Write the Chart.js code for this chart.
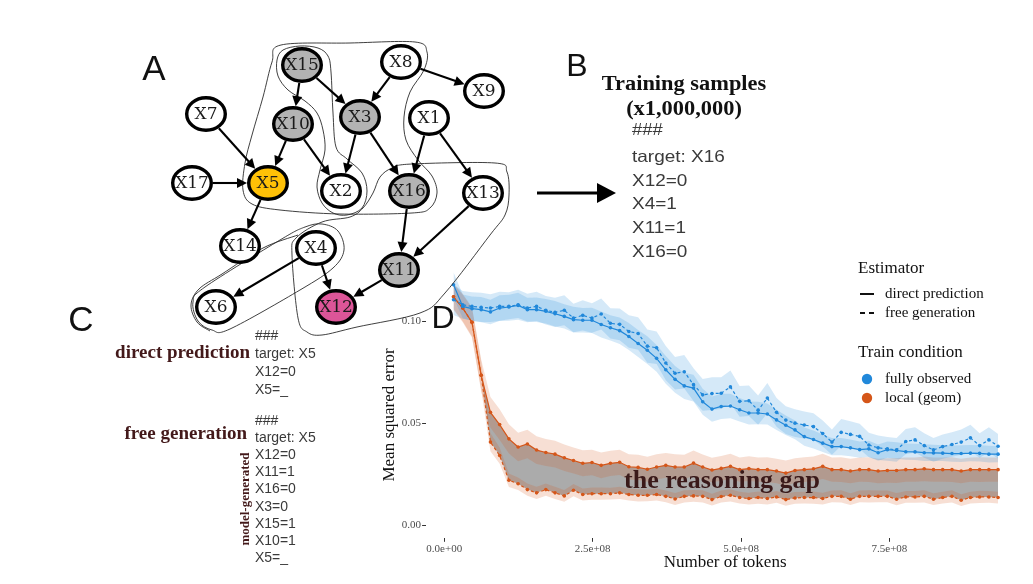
<!DOCTYPE html>
<html>
<head>
<meta charset="utf-8">
<title>the reasoning gap</title>
<script src="https://cdn.jsdelivr.net/npm/chart.js@4.4.1/dist/chart.umd.min.js"></script>
<style>
  html, body { margin: 0; padding: 0; background: #fff; }
  #page { position: relative; width: 1033px; height: 584px; overflow: hidden; }
  canvas { position: absolute; }
  #chartD { left: 380px; top: 250px; }
  #dag { left: 0; top: 0; pointer-events: none; }
  .t { position: absolute; white-space: nowrap; line-height: 1; }
  .letter { font-family: "Liberation Sans", Arial, sans-serif; color: #111; transform: translate(-50%, -50%); }
  .code { font-family: "Liberation Sans", Arial, sans-serif; color: #3a3a3a; }
  .head { font-family: "Liberation Serif", serif; font-weight: bold; }
  .maroon { color: #43191a; }
</style>
</head>
<body>
<div id="page">
  <canvas id="chartD" width="653" height="334"></canvas>
  <canvas id="dag" width="1033" height="584"></canvas>

  <div class="t letter" style="left:154px; top:67px; font-size:35px;">A</div>
  <div class="t letter" style="left:577px; top:65px; font-size:32px;">B</div>
  <div class="t letter" style="left:81px; top:318px; font-size:35px;">C</div>
  <div class="t letter" style="left:443px; top:317px; font-size:32px;">D</div>

  <!-- panel B -->
  <div class="t head" style="left:684px; top:83px; font-size:20px; color:#111; transform:translate(-50%,-50%) scaleX(1.12);">Training samples</div>
  <div class="t head" style="left:684px; top:108px; font-size:20px; color:#111; transform:translate(-50%,-50%) scaleX(1.12);">(x1,000,000)</div>
  <div class="t code" style="left:632px; top:130px; font-size:16px; transform-origin:left center; transform:translateY(-50%) scaleX(1.15);">###</div>
  <div class="t code" style="left:632px; top:145px; font-size:16.5px; line-height:23.7px; transform-origin:left top; transform:scaleX(1.15);">target: X16<br>X12=0<br>X4=1<br>X11=1<br>X16=0</div>

  <!-- panel C -->
  <div class="t head maroon" style="right:783px; top:351px; font-size:19px; transform:translateY(-50%);">direct prediction</div>
  <div class="t code" style="left:255px; top:326px; font-size:14px; line-height:18px;">###<br>target: X5<br>X12=0<br>X5=_</div>
  <div class="t head maroon" style="right:786px; top:432px; font-size:19px; transform:translateY(-50%);">free generation</div>
  <div class="t code" style="left:255px; top:411.5px; font-size:14px; line-height:17.2px;">###<br>target: X5<br>X12=0<br>X11=1<br>X16=0<br>X3=0<br>X15=1<br>X10=1<br>X5=_</div>
  <div class="t head maroon" style="left:244px; top:499px; font-size:13px; transform:translate(-50%,-50%) rotate(-90deg);">model-generated</div>
</div>

<script>
// ---- panel D data ----
const TOKENS = [
  15.6e6, 31.1e6, 46.7e6, 62.2e6, 77.8e6, 93.3e6, 108.9e6, 124.4e6, 140.0e6, 155.5e6,
  171.1e6, 186.6e6, 202.2e6, 217.7e6, 233.3e6, 248.8e6, 264.4e6, 279.9e6, 295.5e6, 311.0e6,
  326.6e6, 342.1e6, 357.7e6, 373.2e6, 388.8e6, 404.3e6, 419.9e6, 435.4e6, 451.0e6, 466.5e6,
  482.1e6, 497.6e6, 513.2e6, 528.7e6, 544.3e6, 559.8e6, 575.4e6, 590.9e6, 606.5e6, 622.0e6,
  637.6e6, 653.1e6, 668.7e6, 684.2e6, 699.8e6, 715.3e6, 730.9e6, 746.4e6, 762.0e6, 777.5e6,
  793.1e6, 808.6e6, 824.2e6, 839.7e6, 855.3e6, 870.8e6, 886.4e6, 901.9e6, 917.5e6, 933.0e6
];

// fully observed, direct prediction
const FO_DIRECT = [
  0.1179, 0.1073, 0.1062, 0.1057, 0.1046, 0.1065, 0.1070, 0.1078, 0.1057, 0.1057,
  0.1049, 0.1037, 0.1024, 0.1008, 0.1005, 0.1005, 0.0984, 0.0968, 0.0954, 0.0925,
  0.0891, 0.0858, 0.0818, 0.0762, 0.0715, 0.0683, 0.0672, 0.0605, 0.0569, 0.0582,
  0.0584, 0.0566, 0.0550, 0.0550, 0.0545, 0.0516, 0.0490, 0.0467, 0.0434, 0.0420,
  0.0402, 0.0385, 0.0385, 0.0379, 0.0370, 0.0374, 0.0355, 0.0370, 0.0366, 0.0360,
  0.0359, 0.0355, 0.0354, 0.0353, 0.0351, 0.0351, 0.0353, 0.0352, 0.0348, 0.0348
];
// fully observed, free generation
const FO_FREE = [
  0.1106, 0.1081, 0.1073, 0.1068, 0.1065, 0.1073, 0.1073, 0.1081, 0.1065, 0.1073,
  0.1054, 0.1044, 0.1054, 0.1016, 0.1029, 0.1016, 0.1036, 0.0990, 0.0985, 0.0950,
  0.0940, 0.0878, 0.0870, 0.0795, 0.0745, 0.0752, 0.0689, 0.0639, 0.0645, 0.0647,
  0.0678, 0.0607, 0.0610, 0.0564, 0.0623, 0.0553, 0.0515, 0.0500, 0.0491, 0.0483,
  0.0449, 0.0407, 0.0455, 0.0445, 0.0435, 0.0393, 0.0379, 0.0374, 0.0369, 0.0410,
  0.0418, 0.0390, 0.0369, 0.0385, 0.0395, 0.0407, 0.0428, 0.0390, 0.0418, 0.0387
];
// local (geom), direct prediction
const LOC_DIRECT = [
  0.1120, 0.1065, 0.0995, 0.0735, 0.0553, 0.0493, 0.0423, 0.0383, 0.0398, 0.0368,
  0.0356, 0.0348, 0.0330, 0.0317, 0.0303, 0.0307, 0.0293, 0.0303, 0.0308, 0.0286,
  0.0283, 0.0274, 0.0285, 0.0293, 0.0285, 0.0285, 0.0304, 0.0285, 0.0270, 0.0278,
  0.0288, 0.0272, 0.0277, 0.0272, 0.0272, 0.0265, 0.0255, 0.0268, 0.0272, 0.0276,
  0.0288, 0.0272, 0.0272, 0.0265, 0.0272, 0.0272, 0.0265, 0.0268, 0.0268, 0.0272,
  0.0272, 0.0276, 0.0272, 0.0272, 0.0272, 0.0265, 0.0272, 0.0272, 0.0272, 0.0272
];
// local (geom), free generation
const LOC_FREE = [
  0.1120, 0.1065, 0.0995, 0.0735, 0.0407, 0.0341, 0.0220, 0.0203, 0.0174, 0.0158,
  0.0174, 0.0158, 0.0143, 0.0171, 0.0150, 0.0154, 0.0154, 0.0154, 0.0158, 0.0150,
  0.0146, 0.0146, 0.0150, 0.0141, 0.0128, 0.0141, 0.0143, 0.0141, 0.0125, 0.0140,
  0.0146, 0.0135, 0.0130, 0.0135, 0.0130, 0.0138, 0.0125, 0.0133, 0.0135, 0.0135,
  0.0130, 0.0141, 0.0141, 0.0127, 0.0141, 0.0141, 0.0141, 0.0141, 0.0127, 0.0138,
  0.0138, 0.0141, 0.0127, 0.0135, 0.0141, 0.0122, 0.0135, 0.0138, 0.0138, 0.0135
];

// ribbon half widths
const FO_DIRECT_SE = [
  0.0062, 0.0058, 0.0060, 0.0062, 0.0060, 0.0063, 0.0060, 0.0062, 0.0058, 0.0060,
  0.0060, 0.0062, 0.0060, 0.0063, 0.0060, 0.0062, 0.0064, 0.0062, 0.0065, 0.0066,
  0.0066, 0.0068, 0.0066, 0.0068, 0.0066, 0.0064, 0.0066, 0.0064, 0.0062, 0.0062,
  0.0060, 0.0058, 0.0056, 0.0055, 0.0052, 0.0050, 0.0048, 0.0046, 0.0045, 0.0044,
  0.0043, 0.0042, 0.0042, 0.0041, 0.0040, 0.0040, 0.0040, 0.0040, 0.0040, 0.0040,
  0.0040, 0.0041, 0.0040, 0.0039, 0.0040, 0.0041, 0.0040, 0.0040, 0.0041, 0.0040
];
const FO_FREE_SE = [
  0.0075, 0.0068, 0.0070, 0.0072, 0.0068, 0.0072, 0.0070, 0.0074, 0.0070, 0.0072,
  0.0070, 0.0072, 0.0074, 0.0070, 0.0074, 0.0072, 0.0076, 0.0074, 0.0078, 0.0080,
  0.0080, 0.0082, 0.0080, 0.0084, 0.0080, 0.0082, 0.0080, 0.0078, 0.0080, 0.0078,
  0.0080, 0.0076, 0.0075, 0.0072, 0.0074, 0.0070, 0.0068, 0.0068, 0.0066, 0.0066,
  0.0064, 0.0062, 0.0066, 0.0064, 0.0062, 0.0060, 0.0060, 0.0058, 0.0058, 0.0062,
  0.0062, 0.0060, 0.0058, 0.0060, 0.0060, 0.0062, 0.0064, 0.0060, 0.0062, 0.0060
];
const LOC_DIRECT_SE = [
  0.0065, 0.0070, 0.0075, 0.0078, 0.0075, 0.0075, 0.0072, 0.0070, 0.0070, 0.0068,
  0.0066, 0.0066, 0.0065, 0.0064, 0.0064, 0.0063, 0.0063, 0.0062, 0.0062, 0.0062,
  0.0062, 0.0061, 0.0062, 0.0061, 0.0062, 0.0060, 0.0062, 0.0061, 0.0060, 0.0061,
  0.0062, 0.0060, 0.0061, 0.0060, 0.0061, 0.0060, 0.0062, 0.0060, 0.0061, 0.0060,
  0.0062, 0.0060, 0.0061, 0.0060, 0.0060, 0.0061, 0.0060, 0.0060, 0.0061, 0.0060,
  0.0060, 0.0061, 0.0060, 0.0060, 0.0061, 0.0060, 0.0060, 0.0061, 0.0060, 0.0060
];
const LOC_FREE_SE = [
  0.0060, 0.0065, 0.0070, 0.0070, 0.0045, 0.0040, 0.0033, 0.0031, 0.0030, 0.0030,
  0.0030, 0.0030, 0.0029, 0.0030, 0.0029, 0.0030, 0.0030, 0.0029, 0.0030, 0.0029,
  0.0030, 0.0029, 0.0030, 0.0029, 0.0029, 0.0030, 0.0029, 0.0030, 0.0029, 0.0029,
  0.0030, 0.0029, 0.0029, 0.0030, 0.0029, 0.0029, 0.0030, 0.0029, 0.0029, 0.0030,
  0.0029, 0.0029, 0.0030, 0.0029, 0.0029, 0.0030, 0.0029, 0.0029, 0.0030, 0.0029,
  0.0029, 0.0030, 0.0029, 0.0029, 0.0030, 0.0029, 0.0029, 0.0030, 0.0029, 0.0029
];

const X_TICKS = [0, 2.5e8, 5.0e8, 7.5e8];
const Y_TICKS = [0, 0.05, 0.10];

const BLUE = "rgb(33, 136, 218)";
const BLUE_BAND = "rgba(33, 136, 218, 0.19)";
const ORANGE = "rgb(213, 86, 25)";
const ORANGE_BAND = "rgba(213, 86, 25, 0.19)";
const GAP_GRAY = "rgba(80, 80, 80, 0.48)";
const SERIF = '"Liberation Serif", "Times New Roman", serif';

// ---- panel A data (graph) ----
const NODE_NAMES = ["X15", "X8", "X9", "X7", "X10", "X3", "X1", "X17", "X5", "X2", "X16", "X13", "X14", "X4", "X11", "X6", "X12"];
const NODE_X = [302, 401, 484, 206, 293, 360, 429, 192, 268, 341, 409, 483, 240, 316, 399, 216, 336];
const NODE_Y = [65, 62, 91, 114, 124, 117, 118, 183, 183, 191, 191, 193, 246, 248, 270, 307, 307];
const NODE_FILL = ["#b3b3b3", "#fff", "#fff", "#fff", "#b3b3b3", "#b3b3b3", "#fff", "#fff", "#ffc107", "#fff", "#b3b3b3", "#fff", "#fff", "#fff", "#b3b3b3", "#fff", "#dc5598"];
const EDGES = [
  ["X15", "X10"], ["X15", "X3"], ["X8", "X3"], ["X8", "X9"], ["X7", "X5"], ["X10", "X5"],
  ["X10", "X2"], ["X3", "X2"], ["X3", "X16"], ["X1", "X16"], ["X1", "X13"], ["X17", "X5"],
  ["X5", "X14"], ["X16", "X11"], ["X13", "X11"], ["X4", "X6"], ["X4", "X12"], ["X11", "X12"]
];
const HULLS = [
  [[281,45],[350,43],[415,42],[427,52],[424,70],[410,92],[404,117],[406,140],[418,160],[432,176],[437,193],[430,208],[412,213],[340,214],[280,210],[252,204],[243,190],[245,163],[252,135],[263,97],[272,62]],
  [[283,50],[300,46],[318,48],[328,56],[331,72],[333,113],[336,147],[347,159],[362,173],[367,191],[362,208],[347,215],[333,213],[322,203],[317,187],[320,170],[325,150],[323,130],[317,113],[305,101],[288,90],[278,76],[277,60]],
  [[193,302],[198,321],[212,330],[230,329],[300,290],[333,268],[344,250],[338,231],[322,224],[305,227],[280,240],[205,287]],
  [[392,168],[412,164],[495,163],[507,172],[509,195],[505,215],[490,235],[445,293],[420,313],[357,327],[322,335],[307,332],[298,318],[292,255],[296,238],[322,222],[350,217],[363,208],[373,193],[380,177]]
];
const HULL_TAILS = [
  [[298,235],[263,248],[222,274],[199,289],[191,305],[197,322],[210,331]]
];
const POINTER = [[537, 193], [616, 193]];

// ---- panel D ----
const sci = v => {
  if (v === 0) return "0.0e+00";
  const e = Math.floor(Math.log10(v));
  return (v / Math.pow(10, e)).toFixed(1) + "e+" + String(e).padStart(2, "0");
};
const pts = vals => vals.map((v, i) => ({ x: TOKENS[i], y: v }));
const shift = (vals, hw, s) => vals.map((v, i) => ({ x: TOKENS[i], y: v + s * hw[i] }));

function lineSet(vals, color, dashed) {
  return {
    data: pts(vals), borderColor: color, backgroundColor: color, borderWidth: 1.2,
    borderDash: dashed ? [3, 2.5] : [], pointRadius: 1.8, pointBorderWidth: 0,
    pointBackgroundColor: color, fill: false, order: 0
  };
}
function band(upper, lower, color, ord) {
  return [
    { data: upper, borderColor: "rgba(0,0,0,0)", borderWidth: 0, pointRadius: 0, fill: "+1", backgroundColor: color, order: ord },
    { data: lower, borderColor: "rgba(0,0,0,0)", borderWidth: 0, pointRadius: 0, fill: false, order: ord }
  ];
}

const decorD = {
  id: "decorD",
  afterDatasetsDraw(chart) {
    const { ctx, chartArea, scales } = chart;
    ctx.save();
    // gap label
    ctx.fillStyle = "#3a1a1a";
    ctx.font = "bold 26px " + SERIF;
    ctx.textAlign = "center";
    ctx.textBaseline = "middle";
    ctx.fillText("the reasoning gap", scales.x.getPixelForValue(4.68e8), scales.y.getPixelForValue(0.0215));
    // axis titles
    ctx.fillStyle = "#111";
    ctx.font = "17px " + SERIF;
    ctx.fillText("Number of tokens", (chartArea.left + chartArea.right) / 2, 313);
    ctx.save();
    ctx.translate(10, 165);
    ctx.rotate(-Math.PI / 2);
    ctx.fillText("Mean squared error", 0, 0);
    ctx.restore();
    // legend
    ctx.textAlign = "left";
    ctx.fillStyle = "#111";
    ctx.font = "17px " + SERIF;
    ctx.fillText("Estimator", 478, 19);
    ctx.fillText("Train condition", 478, 103);
    ctx.font = "15px " + SERIF;
    ctx.fillText("direct prediction", 505, 44);
    ctx.fillText("free generation", 505, 63);
    ctx.fillText("fully observed", 505, 129);
    ctx.fillText("local (geom)", 505, 148);
    ctx.strokeStyle = "#111";
    ctx.lineWidth = 2;
    ctx.beginPath(); ctx.moveTo(480, 44); ctx.lineTo(494, 44); ctx.stroke();
    ctx.setLineDash([5, 4]);
    ctx.beginPath(); ctx.moveTo(480, 63); ctx.lineTo(494, 63); ctx.stroke();
    ctx.setLineDash([]);
    [[BLUE, 129], [ORANGE, 148]].forEach(([c, y]) => {
      ctx.fillStyle = c;
      ctx.beginPath(); ctx.arc(487, y, 5.2, 0, Math.PI * 2); ctx.fill();
    });
    ctx.restore();
  }
};

new Chart(document.getElementById("chartD"), {
  type: "line",
  data: {
    datasets: [
      lineSet(FO_DIRECT, BLUE, false),
      lineSet(FO_FREE, BLUE, true),
      lineSet(LOC_DIRECT, ORANGE, false),
      lineSet(LOC_FREE, ORANGE, true),
      ...band(shift(FO_DIRECT, FO_DIRECT_SE, 1), shift(FO_DIRECT, FO_DIRECT_SE, -1), BLUE_BAND, 20),
      ...band(shift(FO_FREE, FO_FREE_SE, 1), shift(FO_FREE, FO_FREE_SE, -1), BLUE_BAND, 20),
      ...band(shift(LOC_DIRECT, LOC_DIRECT_SE, 1), shift(LOC_DIRECT, LOC_DIRECT_SE, -1), ORANGE_BAND, 20),
      ...band(shift(LOC_FREE, LOC_FREE_SE, 1), shift(LOC_FREE, LOC_FREE_SE, -1), ORANGE_BAND, 20),
      ...band(pts(LOC_DIRECT), pts(LOC_FREE), GAP_GRAY, 30)
    ]
  },
  options: {
    responsive: false,
    animation: false,
    events: [],
    layout: { padding: { top: 5.9, right: 8.8, left: 0, bottom: 0 } },
    plugins: { legend: { display: false }, tooltip: { enabled: false } },
    scales: {
      x: {
        type: "linear", min: -3.06e7, max: 9.77e8,
        afterBuildTicks: s => { s.ticks = X_TICKS.map(v => ({ value: v })); },
        afterFit: s => { s.height = 46.2; },
        ticks: { callback: v => sci(v), color: "#4d4d4d", font: { family: SERIF, size: 11 }, padding: 1, maxRotation: 0 },
        grid: { display: true, drawOnChartArea: false, drawTicks: true, tickLength: 4, color: "#333" },
        border: { display: false }
      },
      y: {
        type: "linear", min: -0.00625, max: 0.13125,
        afterBuildTicks: s => { s.ticks = Y_TICKS.map(v => ({ value: v })); },
        afterFit: s => { s.width = 46.1; },
        ticks: { callback: v => v.toFixed(2), color: "#4d4d4d", font: { family: SERIF, size: 11 }, padding: 1 },
        grid: { display: true, drawOnChartArea: false, drawTicks: true, tickLength: 4, color: "#333" },
        border: { display: false }
      }
    }
  },
  plugins: [decorD]
});

// ---- panel A ----
function closedSpline(ctx, p) {
  const n = p.length;
  ctx.moveTo(p[0][0], p[0][1]);
  for (let i = 0; i < n; i++) {
    const p0 = p[(i - 1 + n) % n], p1 = p[i], p2 = p[(i + 1) % n], p3 = p[(i + 2) % n];
    ctx.bezierCurveTo(p1[0] + (p2[0] - p0[0]) / 6, p1[1] + (p2[1] - p0[1]) / 6,
                      p2[0] - (p3[0] - p1[0]) / 6, p2[1] - (p3[1] - p1[1]) / 6, p2[0], p2[1]);
  }
}
function openSpline(ctx, p) {
  const n = p.length;
  ctx.moveTo(p[0][0], p[0][1]);
  for (let i = 0; i < n - 1; i++) {
    const p0 = p[Math.max(i - 1, 0)], p1 = p[i], p2 = p[i + 1], p3 = p[Math.min(i + 2, n - 1)];
    ctx.bezierCurveTo(p1[0] + (p2[0] - p0[0]) / 6, p1[1] + (p2[1] - p0[1]) / 6,
                      p2[0] - (p3[0] - p1[0]) / 6, p2[1] - (p3[1] - p1[1]) / 6, p2[0], p2[1]);
  }
}
function arrow(ctx, x1, y1, x2, y2, len, half, width) {
  const d = Math.hypot(x2 - x1, y2 - y1), ux = (x2 - x1) / d, uy = (y2 - y1) / d;
  ctx.lineWidth = width;
  ctx.beginPath(); ctx.moveTo(x1, y1); ctx.lineTo(x2 - ux * len * 0.8, y2 - uy * len * 0.8); ctx.stroke();
  ctx.beginPath();
  ctx.moveTo(x2, y2);
  ctx.lineTo(x2 - ux * len - uy * half, y2 - uy * len + ux * half);
  ctx.lineTo(x2 - ux * len + uy * half, y2 - uy * len - ux * half);
  ctx.closePath(); ctx.fill();
}

const RX = 21, RY = 18;
const rim = (cx, cy, ux, uy) => {
  const t = 1 / Math.sqrt((ux / RX) ** 2 + (uy / RY) ** 2);
  return [cx + ux * t, cy + uy * t];
};

const dagPlugin = {
  id: "dag",
  afterDatasetsDraw(chart) {
    const { ctx, scales: { x, y } } = chart;
    const P = q => [x.getPixelForValue(q[0]), y.getPixelForValue(q[1])];
    const nodes = chart.getDatasetMeta(0).data;
    const at = name => nodes[NODE_NAMES.indexOf(name)];
    ctx.save();
    // neighbourhood outlines
    ctx.strokeStyle = "#2a2a2a";
    ctx.lineWidth = 0.9;
    HULLS.forEach(h => { ctx.beginPath(); closedSpline(ctx, h.map(P)); ctx.stroke(); });
    HULL_TAILS.forEach(h => { ctx.beginPath(); openSpline(ctx, h.map(P)); ctx.stroke(); });
    // edges
    ctx.strokeStyle = "#000";
    ctx.fillStyle = "#000";
    EDGES.forEach(([a, b]) => {
      const s = at(a), t = at(b);
      const d = Math.hypot(t.x - s.x, t.y - s.y), ux = (t.x - s.x) / d, uy = (t.y - s.y) / d;
      const [x1, y1] = rim(s.x, s.y, ux, uy);
      const [x2, y2] = rim(t.x, t.y, -ux, -uy);
      arrow(ctx, x1, y1, x2, y2, 10, 5, 2.1);
    });
    // arrow to panel B
    const [a0, a1] = POINTER.map(P);
    arrow(ctx, a0[0], a0[1], a1[0], a1[1], 19, 10, 3.2);
    // nodes
    ctx.textAlign = "center";
    ctx.textBaseline = "middle";
    ctx.font = '17px "DejaVu Serif", serif';
    nodes.forEach((el, i) => {
      ctx.beginPath();
      ctx.ellipse(el.x, el.y, RX - 1.7, RY - 1.7, 0, 0, Math.PI * 2);
      ctx.fillStyle = NODE_FILL[i];
      ctx.fill();
      ctx.lineWidth = 3.4;
      ctx.strokeStyle = "#000";
      ctx.stroke();
      ctx.fillStyle = "#1a1a1a";
      ctx.fillText(NODE_NAMES[i], el.x, el.y + 1);
    });
    ctx.restore();
  }
};

new Chart(document.getElementById("dag"), {
  type: "scatter",
  data: { datasets: [{ data: NODE_NAMES.map((n, i) => ({ x: NODE_X[i], y: NODE_Y[i] })), pointRadius: 0 }] },
  options: {
    responsive: false,
    animation: false,
    events: [],
    layout: { padding: 0 },
    plugins: { legend: { display: false }, tooltip: { enabled: false } },
    scales: {
      x: { type: "linear", display: false, min: 0, max: 1033 },
      y: { type: "linear", display: false, min: 0, max: 584, reverse: true }
    }
  },
  plugins: [dagPlugin]
});
</script>
</body>
</html>
